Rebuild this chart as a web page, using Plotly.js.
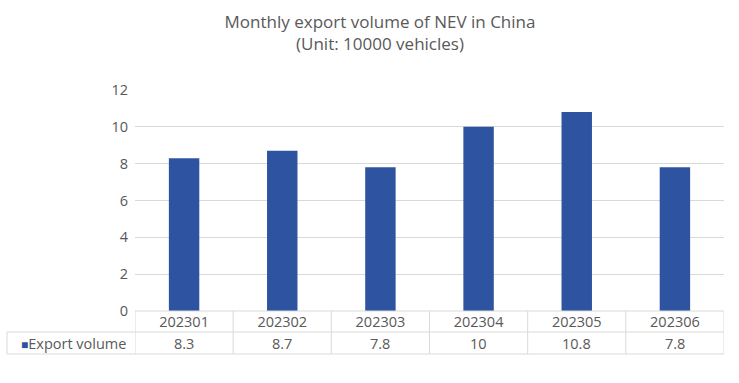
<!DOCTYPE html>
<html>
<head>
<meta charset="utf-8">
<script src="https://cdn.plot.ly/plotly-3.0.1.min.js"></script>
<style>html,body{margin:0;padding:0;background:#fff;}#chart{width:739px;height:383px;}</style>
</head>
<body>
<div id="chart"></div>
<script>
const categories = ['202301','202302','202303','202304','202305','202306'];
const exportVolume = [8.3, 8.7, 7.8, 10, 10.8, 7.8];
const seriesName = 'Export volume';
const titleLines = ['Monthly export volume of NEV in China', '(Unit: 10000 vehicles)'];

const barColor = '#2E54A1';
const textColor = '#595959';
const lineColor = '#d9d9d9';
const font = 'Open Sans, Noto Sans, sans-serif';

const M = {l:135, r:15, t:90, b:72};
const plotH = 383 - M.t - M.b;
const plotW = 739 - M.l - M.r;
const rowTop = 0, rowMid = -21/plotH, rowBot = -43/plotH;
const labelLeft = -128/plotW;

const shapes = [];
shapes.push({type:'line', xref:'paper', yref:'paper', x0:0, x1:1, y0:rowTop, y1:rowTop, line:{color:lineColor, width:1}});
shapes.push({type:'line', xref:'paper', yref:'paper', x0:labelLeft, x1:1, y0:rowMid, y1:rowMid, line:{color:lineColor, width:1}});
shapes.push({type:'line', xref:'paper', yref:'paper', x0:labelLeft, x1:1, y0:rowBot, y1:rowBot, line:{color:lineColor, width:1}});
shapes.push({type:'line', xref:'paper', yref:'paper', x0:labelLeft, x1:labelLeft, y0:rowMid, y1:rowBot, line:{color:lineColor, width:1}});
for (let i = 0; i <= categories.length; i++) {
  shapes.push({type:'line', xref:'x', yref:'paper', x0:i-0.5, x1:i-0.5, y0:rowTop, y1:rowBot, line:{color:lineColor, width:1}});
}

const annotations = [];
exportVolume.forEach((v, i) => {
  annotations.push({xref:'x', yref:'paper', x:i, y:(rowMid+rowBot)/2, text:String(v), showarrow:false,
    font:{family:font, size:14.5, color:textColor}, xanchor:'center', yanchor:'middle'});
});
annotations.push({xref:'paper', yref:'paper', x:labelLeft + 12/plotW, y:(rowMid+rowBot)/2,
  text:'<span style="color:'+barColor+';font-size:12px">■</span>' + seriesName, showarrow:false,
  font:{family:font, size:14.5, color:textColor}, xanchor:'left', yanchor:'middle'});

const trace = {
  type:'bar', x:categories, y:exportVolume, name:seriesName,
  marker:{color:barColor}, hoverinfo:'none'
};

const layout = {
  width:739, height:383,
  margin:M,
  paper_bgcolor:'#fff', plot_bgcolor:'#fff',
  showlegend:false,
  bargap:0.69,
  title:{text:titleLines.join('<br>'), x:380/739, xanchor:'center', xref:'container', yref:'container',
    y:1 - 28/383, yanchor:'middle',
    font:{family:font, size:17, color:textColor}},
  xaxis:{type:'category', range:[-0.5, 5.5], showgrid:false, zeroline:false, showline:false,
    ticks:'', tickfont:{family:font, size:14.5, color:textColor}, ticklabelstandoff:0, fixedrange:true},
  yaxis:{range:[0,12], dtick:2, showgrid:true, gridcolor:lineColor, gridwidth:1, zeroline:false,
    showline:false, ticks:'', tickfont:{family:font, size:14.5, color:textColor}, ticklabelstandoff:6, fixedrange:true},
  shapes:shapes,
  annotations:annotations,
  font:{family:font, color:textColor}
};

Plotly.newPlot('chart', [trace], layout, {displayModeBar:false, staticPlot:true});
</script>
</body>
</html>
